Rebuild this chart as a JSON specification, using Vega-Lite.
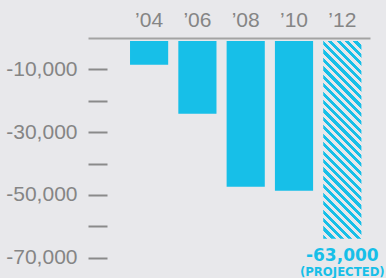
{
  "$schema": "https://vega.github.io/schema/vega-lite/v6.json",
  "autosize": "none",
  "width": 282,
  "height": 226,
  "padding": {"left": 88, "top": 38, "right": 16, "bottom": 14},
  "background": "#e8e8eb",
  "config": {
    "view": {"stroke": null},
    "locale": {"number": {"decimal": ".", "thousands": ",", "grouping": [3], "currency": ["$", ""], "minus": "-"}}
  },
  "data": {
    "values": [
      {"year": "’04", "value": -7550, "projected": false},
      {"year": "’06", "value": -23150, "projected": false},
      {"year": "’08", "value": -46400, "projected": false},
      {"year": "’10", "value": -47700, "projected": false},
      {"year": "’12", "value": -63000, "projected": true}
    ]
  },
  "encoding": {
    "x": {
      "field": "year", "type": "nominal", "sort": null,
      "scale": {"paddingInner": 0.21, "paddingOuter": 0.524, "align": 0.83},
      "axis": {
        "orient": "top", "title": null, "labelAngle": 0, "ticks": false,
        "domainColor": "#a3a3a3", "domainWidth": 2,
        "labelPadding": 12, "labelBaseline": "alphabetic",
        "labelFont": "Liberation Sans", "labelFontSize": 21, "labelColor": "#858585"
      }
    },
    "y": {
      "field": "value", "type": "quantitative",
      "scale": {"domain": [-72000, 0], "nice": false},
      "axis": {
        "title": null, "domain": false, "grid": false,
        "values": [-10000, -20000, -30000, -40000, -50000, -60000, -70000],
        "tickSize": -19, "tickWidth": 2, "tickColor": "#8a8a8a",
        "labelPadding": 30,
        "labelExpr": "datum.value % 20000 == 0 ? '' : replace(datum.label, '−', '-')",
        "labelFont": "Liberation Sans", "labelFontSize": 21, "labelColor": "#858585"
      }
    }
  },
  "layer": [
    {
      "transform": [{"filter": "!datum.projected"}],
      "mark": {"type": "bar", "color": "#17bfe8", "yOffset": 3, "y2Offset": 3},
      "encoding": {"y2": {"datum": 0}}
    },
    {
      "transform": [{"filter": "datum.projected"}],
      "mark": {
        "type": "bar", "yOffset": 3, "y2Offset": 3,
        "color": {
          "gradient": "linear", "x1": 0, "y1": 1, "x2": 0.2219, "y2": -0.1501,
          "stops": [
            {"offset": 0, "color": "#17bfe8"}, {"offset": 0.0179, "color": "#17bfe8"}, {"offset": 0.0179, "color": "#e8e8eb"}, {"offset": 0.0357, "color": "#e8e8eb"},
            {"offset": 0.0357, "color": "#17bfe8"}, {"offset": 0.0536, "color": "#17bfe8"}, {"offset": 0.0536, "color": "#e8e8eb"}, {"offset": 0.0714, "color": "#e8e8eb"},
            {"offset": 0.0714, "color": "#17bfe8"}, {"offset": 0.0893, "color": "#17bfe8"}, {"offset": 0.0893, "color": "#e8e8eb"}, {"offset": 0.1071, "color": "#e8e8eb"},
            {"offset": 0.1071, "color": "#17bfe8"}, {"offset": 0.125, "color": "#17bfe8"}, {"offset": 0.125, "color": "#e8e8eb"}, {"offset": 0.1429, "color": "#e8e8eb"},
            {"offset": 0.1429, "color": "#17bfe8"}, {"offset": 0.1607, "color": "#17bfe8"}, {"offset": 0.1607, "color": "#e8e8eb"}, {"offset": 0.1786, "color": "#e8e8eb"},
            {"offset": 0.1786, "color": "#17bfe8"}, {"offset": 0.1964, "color": "#17bfe8"}, {"offset": 0.1964, "color": "#e8e8eb"}, {"offset": 0.2143, "color": "#e8e8eb"},
            {"offset": 0.2143, "color": "#17bfe8"}, {"offset": 0.2321, "color": "#17bfe8"}, {"offset": 0.2321, "color": "#e8e8eb"}, {"offset": 0.25, "color": "#e8e8eb"},
            {"offset": 0.25, "color": "#17bfe8"}, {"offset": 0.2679, "color": "#17bfe8"}, {"offset": 0.2679, "color": "#e8e8eb"}, {"offset": 0.2857, "color": "#e8e8eb"},
            {"offset": 0.2857, "color": "#17bfe8"}, {"offset": 0.3036, "color": "#17bfe8"}, {"offset": 0.3036, "color": "#e8e8eb"}, {"offset": 0.3214, "color": "#e8e8eb"},
            {"offset": 0.3214, "color": "#17bfe8"}, {"offset": 0.3393, "color": "#17bfe8"}, {"offset": 0.3393, "color": "#e8e8eb"}, {"offset": 0.3571, "color": "#e8e8eb"},
            {"offset": 0.3571, "color": "#17bfe8"}, {"offset": 0.375, "color": "#17bfe8"}, {"offset": 0.375, "color": "#e8e8eb"}, {"offset": 0.3929, "color": "#e8e8eb"},
            {"offset": 0.3929, "color": "#17bfe8"}, {"offset": 0.4107, "color": "#17bfe8"}, {"offset": 0.4107, "color": "#e8e8eb"}, {"offset": 0.4286, "color": "#e8e8eb"},
            {"offset": 0.4286, "color": "#17bfe8"}, {"offset": 0.4464, "color": "#17bfe8"}, {"offset": 0.4464, "color": "#e8e8eb"}, {"offset": 0.4643, "color": "#e8e8eb"},
            {"offset": 0.4643, "color": "#17bfe8"}, {"offset": 0.4821, "color": "#17bfe8"}, {"offset": 0.4821, "color": "#e8e8eb"}, {"offset": 0.5, "color": "#e8e8eb"},
            {"offset": 0.5, "color": "#17bfe8"}, {"offset": 0.5179, "color": "#17bfe8"}, {"offset": 0.5179, "color": "#e8e8eb"}, {"offset": 0.5357, "color": "#e8e8eb"},
            {"offset": 0.5357, "color": "#17bfe8"}, {"offset": 0.5536, "color": "#17bfe8"}, {"offset": 0.5536, "color": "#e8e8eb"}, {"offset": 0.5714, "color": "#e8e8eb"},
            {"offset": 0.5714, "color": "#17bfe8"}, {"offset": 0.5893, "color": "#17bfe8"}, {"offset": 0.5893, "color": "#e8e8eb"}, {"offset": 0.6071, "color": "#e8e8eb"},
            {"offset": 0.6071, "color": "#17bfe8"}, {"offset": 0.625, "color": "#17bfe8"}, {"offset": 0.625, "color": "#e8e8eb"}, {"offset": 0.6429, "color": "#e8e8eb"},
            {"offset": 0.6429, "color": "#17bfe8"}, {"offset": 0.6607, "color": "#17bfe8"}, {"offset": 0.6607, "color": "#e8e8eb"}, {"offset": 0.6786, "color": "#e8e8eb"},
            {"offset": 0.6786, "color": "#17bfe8"}, {"offset": 0.6964, "color": "#17bfe8"}, {"offset": 0.6964, "color": "#e8e8eb"}, {"offset": 0.7143, "color": "#e8e8eb"},
            {"offset": 0.7143, "color": "#17bfe8"}, {"offset": 0.7321, "color": "#17bfe8"}, {"offset": 0.7321, "color": "#e8e8eb"}, {"offset": 0.75, "color": "#e8e8eb"},
            {"offset": 0.75, "color": "#17bfe8"}, {"offset": 0.7679, "color": "#17bfe8"}, {"offset": 0.7679, "color": "#e8e8eb"}, {"offset": 0.7857, "color": "#e8e8eb"},
            {"offset": 0.7857, "color": "#17bfe8"}, {"offset": 0.8036, "color": "#17bfe8"}, {"offset": 0.8036, "color": "#e8e8eb"}, {"offset": 0.8214, "color": "#e8e8eb"},
            {"offset": 0.8214, "color": "#17bfe8"}, {"offset": 0.8393, "color": "#17bfe8"}, {"offset": 0.8393, "color": "#e8e8eb"}, {"offset": 0.8571, "color": "#e8e8eb"},
            {"offset": 0.8571, "color": "#17bfe8"}, {"offset": 0.875, "color": "#17bfe8"}, {"offset": 0.875, "color": "#e8e8eb"}, {"offset": 0.8929, "color": "#e8e8eb"},
            {"offset": 0.8929, "color": "#17bfe8"}, {"offset": 0.9107, "color": "#17bfe8"}, {"offset": 0.9107, "color": "#e8e8eb"}, {"offset": 0.9286, "color": "#e8e8eb"},
            {"offset": 0.9286, "color": "#17bfe8"}, {"offset": 0.9464, "color": "#17bfe8"}, {"offset": 0.9464, "color": "#e8e8eb"}, {"offset": 0.9643, "color": "#e8e8eb"},
            {"offset": 0.9643, "color": "#17bfe8"}, {"offset": 0.9821, "color": "#17bfe8"}, {"offset": 0.9821, "color": "#e8e8eb"}, {"offset": 1, "color": "#e8e8eb"}
          ]
        }
      },
      "encoding": {"y2": {"datum": 0}}
    },
    {
      "transform": [{"filter": "datum.projected"}],
      "mark": {"type": "text", "font": "DejaVu Sans", "fontWeight": "bold", "fontSize": 17, "color": "#17bfe8", "align": "center", "baseline": "alphabetic", "yOffset": 25, "clip": false},
      "encoding": {"text": {"field": "value", "type": "quantitative", "format": ","}}
    },
    {
      "transform": [{"filter": "datum.projected"}],
      "mark": {"type": "text", "font": "DejaVu Sans", "fontWeight": "bold", "fontSize": 11.7, "color": "#17bfe8", "align": "center", "baseline": "alphabetic", "yOffset": 40, "clip": false},
      "encoding": {"text": {"value": "(PROJECTED)"}}
    }
  ]
}
